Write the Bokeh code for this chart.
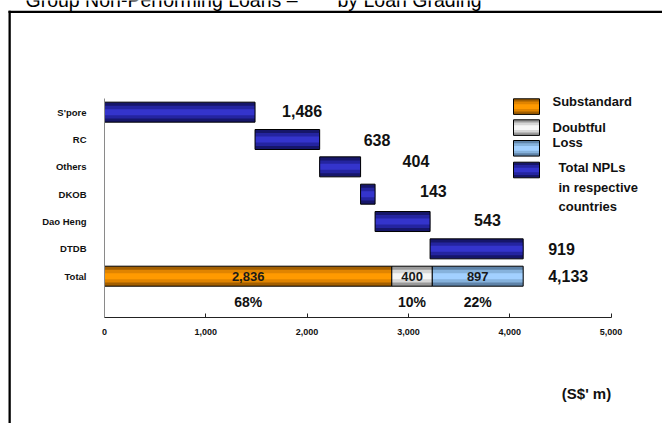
from bokeh.plotting import figure
from bokeh.models import (ColumnDataSource, LabelSet, Label, FixedTicker,
                          NumeralTickFormatter, BoxAnnotation, Range1d)
from bokeh.core.properties import value
from bokeh.embed import file_html
from bokeh.resources import INLINE

# ---------------- data ----------------
categories = ["S'pore", "RC", "Others", "DKOB", "Dao Heng", "DTDB"]
country_npl = [1486, 638, 404, 143, 543, 919]
total_name = "Total"
grade_names = ["Substandard", "Doubtful", "Loss"]
grade_values = [2836, 400, 897]
grade_pct = ["68%", "10%", "22%"]
x_ticks = [0, 1000, 2000, 3000, 4000, 5000]
legend_lines = ["Substandard", "Doubtful", "Loss", "Total NPLs", "in respective", "countries"]
title_parts = ["Group Non-Performing Loans \u2013", "by Loan Grading"]
unit_text = "(S$' m)"

# ---------------- geometry / style ----------------
W, H = 662, 423
XMAX = 5000
NROWS = 8
FONT = "Liberation Sans"
AX_LEFT_PX, AX_RIGHT_PX = 104.0, 610.5     # pixel position of x = 0 and x = 5000
AX_BOTTOM_PX, AX_TOP_PX = 316.7, 98.0      # pixel position of row band bottom / top
upx = XMAX / (AX_RIGHT_PX - AX_LEFT_PX)
upy = NROWS / (AX_BOTTOM_PX - AX_TOP_PX)


def dx(px):
    return (px - AX_LEFT_PX) * upx


def dy(py):
    return (AX_BOTTOM_PX - py) * upy


BLUE = ("#16166a", "#2424a0", "#3434cc")
ORANGE = ("#a35f00", "#e08400", "#ff9a00")
WHITE = ("#9a9a9a", "#d6d6d6", "#f6f6f6")
LBLUE = ("#5f83a8", "#86b2dc", "#a2d0ff")
GRADE_COLORS = [ORANGE, WHITE, LBLUE]

row_y = [NROWS - 0.5 - i for i in range(NROWS)]
country_y = row_y[:len(categories)]
total_y = row_y[len(categories)]
pct_y = row_y[len(categories) + 1]

# waterfall
lefts, acc = [], 0
for v in country_npl:
    lefts.append(acc)
    acc += v
rights = [l + v for l, v in zip(lefts, country_npl)]
total = acc

g_left, acc = [], 0
for v in grade_values:
    g_left.append(acc)
    acc += v
g_right = [l + v for l, v in zip(g_left, grade_values)]

p = figure(width=W, height=H, title=None,
           x_range=Range1d(dx(0), dx(W)), y_range=Range1d(dy(H), dy(0)),
           output_backend="svg", toolbar_location=None, min_border=0)
p.outline_line_color = None
p.xgrid.grid_line_color = None
p.ygrid.grid_line_color = None
p.background_fill_color = "white"
p.border_fill_color = "white"

BAR_H = 20 * upy


def shaded_hbar(y, left, right, height, cols):
    edge, mid, core = cols
    p.hbar(y=y, left=left, right=right, height=height, fill_color=edge, line_color=None)
    p.hbar(y=y, left=left, right=right, height=height * 0.64, fill_color=mid, line_color=None)
    p.hbar(y=y, left=left, right=right, height=height * 0.3, fill_color=core, line_color=None)
    p.hbar(y=y, left=left, right=right, height=height, fill_color=None,
           line_color="#000000", line_width=1)


# country bars (waterfall)
shaded_hbar(country_y, lefts, rights, BAR_H, BLUE)
# total bar, split by loan grading
for i in range(len(grade_values)):
    shaded_hbar([total_y], [g_left[i]], [g_right[i]], BAR_H, GRADE_COLORS[i])

# legend swatches
sw_tops = [98.3, 119.3, 140.0, 161.7]
sw_cols = [ORANGE, WHITE, LBLUE, BLUE]
for t, c in zip(sw_tops, sw_cols):
    shaded_hbar([dy(t + 7.8)], [dx(513)], [dx(539)], 15.6 * upy, c)

# ---------------- axes ----------------
xa = p.xaxis[0]
xa.fixed_location = 0
xa.bounds = (0, XMAX)
xa.ticker = FixedTicker(ticks=x_ticks)
xa.formatter = NumeralTickFormatter(format="0,0")
xa.major_tick_in = 4
xa.major_tick_out = 0
xa.minor_tick_line_color = None
xa.axis_line_color = "#222222"
xa.major_tick_line_color = "#222222"
xa.major_label_text_font = FONT
xa.major_label_text_font_size = "9px"
xa.major_label_text_font_style = "bold"
xa.major_label_text_color = "#111111"
xa.major_label_standoff = 12

ya = p.yaxis[0]
ya.fixed_location = 0
ya.bounds = (0, NROWS)
ya.ticker = FixedTicker(ticks=country_y + [total_y])
ya.major_label_overrides = {y: n for y, n in zip(country_y + [total_y], categories + [total_name])}
ya.major_tick_line_color = None
ya.minor_tick_line_color = None
ya.axis_line_color = "#8a8a8a"
ya.major_label_text_font = FONT
ya.major_label_text_font_size = "9.5px"
ya.major_label_text_font_style = "bold"
ya.major_label_text_color = "#111111"
ya.major_label_standoff = 12

# ---------------- value labels ----------------
label_dx_px = [27, 44, 42, 45, 44, 25]
label_dy_px = [1, 0, 6, 3, 2, 0]
val_src = ColumnDataSource(dict(
    x=[r + d * upx for r, d in zip(rights, label_dx_px)] + [total + 25 * upx],
    y=[y + d * upy for y, d in zip(country_y, label_dy_px)] + [total_y],
    text=[f"{v:,}" for v in country_npl] + [f"{total:,}"],
))
p.add_layout(LabelSet(x="x", y="y", text="text", source=val_src,
                      text_font=value(FONT), text_font_size="16px",
                      text_font_style="bold", text_color="#111111",
                      text_baseline="middle", text_align="left"))

seg_src = ColumnDataSource(dict(
    x=[(l + r) / 2 for l, r in zip(g_left, g_right)],
    y=[total_y] * len(grade_values),
    text=[f"{v:,}" for v in grade_values],
))
p.add_layout(LabelSet(x="x", y="y", text="text", source=seg_src,
                      text_font=value(FONT), text_font_size="13px",
                      text_font_style="bold", text_color="#1a1a1a",
                      text_baseline="middle", text_align="center"))

pct_src = ColumnDataSource(dict(
    x=[(l + r) / 2 for l, r in zip(g_left, g_right)],
    y=[pct_y + 1.3 * upy] * len(grade_pct),
    text=grade_pct,
))
p.add_layout(LabelSet(x="x", y="y", text="text", source=pct_src,
                      text_font=value(FONT), text_font_size="14px",
                      text_font_style="bold", text_color="#111111",
                      text_baseline="middle", text_align="center"))

# ---------------- legend text ----------------
leg_pos = [(552, 100.7), (552, 127.3), (552, 141.7), (558, 167.3), (558, 186.7), (558, 205.7)]
for txt, (lx, ly) in zip(legend_lines, leg_pos):
    p.add_layout(Label(x=dx(lx), y=dy(ly), text=txt, text_font=FONT,
                       text_font_size="13px", text_font_style="bold",
                       text_color="#111111", text_baseline="middle", text_align="left"))

# units
p.add_layout(Label(x=dx(586), y=dy(393), text=unit_text, text_font=FONT,
                   text_font_size="15px", text_font_style="bold", text_color="#111111",
                   text_baseline="middle", text_align="center"))

# title (its upper half lies above the top of the page, as in the original)
p.add_layout(Label(x=dx(25), y=dy(-1), text=title_parts[0], text_font=FONT,
                   text_font_size="19.5px", text_color="#000000",
                   text_baseline="middle", text_align="left"))
p.add_layout(Label(x=dx(337), y=dy(-1), text=title_parts[1], text_font=FONT,
                   text_font_size="19.5px", text_color="#000000",
                   text_baseline="middle", text_align="left"))

# outer frame lines (top and left)
p.add_layout(BoxAnnotation(left=dx(8), right=dx(W + 10), top=dy(10.3), bottom=dy(12.6),
                           fill_color="black", fill_alpha=1, line_color=None))
p.add_layout(BoxAnnotation(left=dx(8), right=dx(10.3), top=dy(10.3), bottom=dy(H + 10),
                           fill_color="black", fill_alpha=1, line_color=None))

open("out.html", "w").write(file_html(p, INLINE))
